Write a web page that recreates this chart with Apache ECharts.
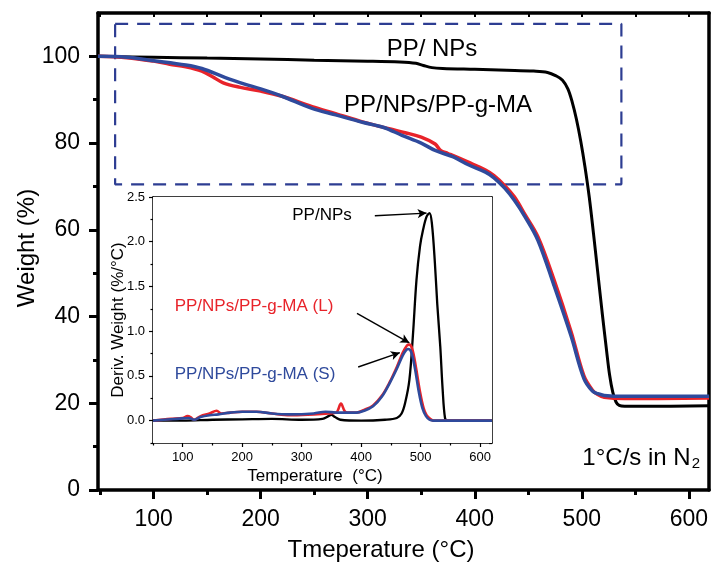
<!DOCTYPE html>
<html>
<head>
<meta charset="utf-8">
<script src="https://cdn.jsdelivr.net/npm/echarts@6/dist/echarts.min.js"></script>
<style>html,body{margin:0;padding:0;background:#fff}#c{width:711px;height:563px}</style>
</head>
<body>
<div id="c"></div>
<script>
// ---------- Main TGA curves ----------
const tBlack = [48,100,150,200,250,300,330,345,352,360,370,400,430,455,468,476,482,487,491,495,499,503,507,511,515,519,523,526,529,532,535,540,560,619];
const wBlack = [100,99.8,99.6,99.4,99.1,98.9,98.7,98.4,97.9,97.4,97.2,97.0,96.8,96.6,96.3,95.5,94.5,92.5,89.5,85.5,80.5,74.5,67.5,59,50,41,32.5,26.5,22.5,20.3,19.5,19.3,19.3,19.4];

const tRed = [48,75,100,115,130,145,155,165,180,200,220,248,270,295,320,335,350,363,368,375,394,410,418,428,437,447,459,474,490,502,510,515,521,540,619];
const wRed = [100,99.7,98.9,98.2,97.6,96.6,95.3,93.9,92.9,92.0,90.8,88.4,86.8,84.9,83.3,82.4,81.4,79.8,78.3,77.6,75.6,73.8,72.5,70.2,67.6,63.5,58.4,48.5,36.5,26.3,23.0,22.0,21.4,21.1,21.2];

const tBlue = [48,75,100,130,145,167,185,200,220,248,270,295,315,332,350,363,380,394,410,418,428,437,447,459,474,490,502,510,515,521,540,619];
const wBlue = [100,99.8,99.0,98.0,97.2,95.1,93.6,92.5,90.8,88.0,86.5,84.8,83.6,81.8,80.0,78.3,76.8,75.0,73.3,72.0,69.6,66.8,63,57.6,47.2,35.5,25.7,22.8,22.2,21.8,21.6,21.6];

// dashed box corners (temperature, weight)
const boxT = [64,537,537,64,64];
const boxW = [107.5,107.5,70.5,70.5,107.5];

// ---------- Inset DTG curves ----------
const dtT_Black = [50,100,150,200,250,300,335,345,350,356,365,400,440,460,468,474,481,487,493,499,504,510,515,519,524,528,533,537,541,545,620];
const dtD_Black = [0,0,0.01,0.015,0.02,0.01,0.02,0.05,0.065,0.04,0.01,0,0.01,0.03,0.08,0.2,0.45,0.95,1.57,1.95,2.13,2.28,2.32,2.2,1.76,1.3,0.83,0.35,0.03,0,0];

const dtT_Red = [50,80,100,108,113,119,130,145,157,165,180,200,224,250,280,320,345,358,366,373,380,392,405,420,435,448,460,470,477,481,486,492,499,505,510,516,522,620];
const dtD_Red = [0,0.02,0.03,0.05,0.04,0.01,0.05,0.08,0.11,0.08,0.09,0.1,0.1,0.08,0.06,0.07,0.08,0.09,0.19,0.1,0.09,0.09,0.12,0.17,0.28,0.43,0.6,0.76,0.84,0.85,0.8,0.6,0.32,0.14,0.06,0.02,0,0];

const dtT_Blue = [50,80,100,110,119,130,145,160,180,200,224,250,280,320,340,358,380,392,405,420,435,448,460,470,476,479,484,490,497,503,509,515,521,620];
const dtD_Blue = [0,0.015,0.025,0.03,0.01,0.04,0.06,0.07,0.09,0.1,0.1,0.08,0.07,0.08,0.1,0.09,0.09,0.09,0.11,0.16,0.27,0.42,0.58,0.73,0.79,0.8,0.77,0.6,0.32,0.14,0.05,0.01,0,0];

// arrows in inset (temperature, deriv)
const arrowFrom = [[423,2.29],[393,1.20],[395,0.60]];
const arrowTo   = [[510,2.32],[481,0.87],[465,0.76]];

// tick values
const mainXMajor = [100,200,300,400,500,600];
const mainXMinor = [50,150,250,350,450,550];
const mainXTop = [50,100,150,200,250,300,350,400,450,500,550,600];
const mainYMajor = [0,20,40,60,80,100];
const mainYMinor = [10,30,50,70,90];
const insXMajor = [100,200,300,400,500,600];
const insXMinor = [50,150,250,350,450,550];
const insYMajor = [0,0.5,1.0,1.5,2.0,2.5];
const insYMinor = [-0.25,0.25,0.75,1.25,1.75,2.25];
const insYRight = [-0.25,0,0.25,0.5,0.75,1,1.25,1.5,1.75,2,2.25];

const zip = (a,b) => a.map((v,i)=>[v,b[i]]);

const FONT = 'Liberation Sans, Arial, Helvetica, sans-serif';
const RED = '#e8232a', BLUE = '#2f4a9c', BOXBLUE = '#2d3d92';

function ax(grid, min, max, opt) {
  const o = Object.assign({type:'value', gridIndex:grid, min, max, splitLine:{show:false}}, opt);
  o.axisLine = Object.assign({onZero:false}, o.axisLine || {});
  return o;
}

const XMIN=48, XMAX=619, IXMIN=50, IXMAX=620;
const SM = 0.35;

const option = {
  animation:false,
  backgroundColor:'#fff',
  grid:[
    {left:98, right:1, top:13, bottom:73, containLabel:false},
    {left:153, right:219, top:197, bottom:120, show:true, backgroundColor:'#fff', borderWidth:0, z:5}
  ],
  xAxis:[
    ax(0,XMIN,XMAX,{position:'bottom',
      axisLine:{show:true,lineStyle:{color:'#000',width:3.5}},
      axisTick:{show:true,customValues:mainXMajor,length:9,inside:false,lineStyle:{color:'#000',width:3}},
      axisLabel:{show:true,customValues:mainXMajor,margin:18,color:'#000',fontSize:23,fontFamily:FONT}}),
    ax(0,XMIN,XMAX,{position:'bottom',
      axisLine:{show:false},
      axisTick:{show:true,customValues:mainXMinor,length:5,inside:false,lineStyle:{color:'#000',width:3}},
      axisLabel:{show:false}}),
    ax(0,XMIN,XMAX,{position:'top',
      axisLine:{show:true,lineStyle:{color:'#000',width:3.5}},
      axisTick:{show:true,customValues:mainXTop,length:4,inside:true,lineStyle:{color:'#000',width:2}},
      axisLabel:{show:false}}),
    ax(1,IXMIN,IXMAX,{position:'bottom',
      axisLine:{show:true,lineStyle:{color:'#000',width:1.5}},
      axisTick:{show:true,customValues:insXMajor,length:4,inside:false,lineStyle:{color:'#000',width:1.2}},
      axisLabel:{show:true,customValues:insXMajor,margin:8,color:'#000',fontSize:13,fontFamily:FONT}}),
    ax(1,IXMIN,IXMAX,{position:'bottom',
      axisLine:{show:false},
      axisTick:{show:true,customValues:insXMinor,length:2.5,inside:false,lineStyle:{color:'#000',width:1.2}},
      axisLabel:{show:false}}),
    ax(1,IXMIN,IXMAX,{position:'top',
      axisLine:{show:true,lineStyle:{color:'#000',width:1.5}},
      axisTick:{show:true,customValues:insXMinor.concat(insXMajor),length:3,inside:true,lineStyle:{color:'#000',width:1.2}},
      axisLabel:{show:false}})
  ],
  yAxis:[
    ax(0,0,110,{position:'left',
      axisLine:{show:true,lineStyle:{color:'#000',width:3.5}},
      axisTick:{show:true,customValues:mainYMajor,length:9,inside:false,lineStyle:{color:'#000',width:3}},
      axisLabel:{show:true,customValues:mainYMajor,margin:18,color:'#000',fontSize:23,fontFamily:FONT}}),
    ax(0,0,110,{position:'left',
      axisLine:{show:false},
      axisTick:{show:true,customValues:mainYMinor,length:5,inside:false,lineStyle:{color:'#000',width:3}},
      axisLabel:{show:false}}),
    ax(0,0,110,{position:'right',
      axisLine:{show:true,lineStyle:{color:'#000',width:3.5}},
      axisTick:{show:false},
      axisLabel:{show:false}}),
    ax(1,-0.25,2.5,{position:'left',
      axisLine:{show:true,lineStyle:{color:'#000',width:1.5}},
      axisTick:{show:true,customValues:insYMajor,length:4,inside:false,lineStyle:{color:'#000',width:1.2}},
      axisLabel:{show:true,customValues:insYMajor,margin:8,color:'#000',fontSize:13,fontFamily:FONT,
        formatter:v=>Number(v).toFixed(1)}}),
    ax(1,-0.25,2.5,{position:'left',
      axisLine:{show:false},
      axisTick:{show:true,customValues:insYMinor,length:2.5,inside:false,lineStyle:{color:'#000',width:1.2}},
      axisLabel:{show:false}}),
    ax(1,-0.25,2.5,{position:'right',
      axisLine:{show:true,lineStyle:{color:'#000',width:1.5}},
      axisTick:{show:true,customValues:insYRight,length:3,inside:true,lineStyle:{color:'#000',width:1.2}},
      axisLabel:{show:false}})
  ],
  series:[
    {type:'line', name:'box', xAxisIndex:0, yAxisIndex:0, data:zip(boxT,boxW), symbol:'none', silent:true,
      lineStyle:{color:BOXBLUE,width:2.2,type:[13,9]}, z:1},
    {type:'line', name:'PP/ NPs', xAxisIndex:0, yAxisIndex:0, data:zip(tBlack,wBlack), symbol:'none',
      smooth:SM, lineStyle:{color:'#000',width:3}, z:2},
    {type:'line', name:'PP/NPs/PP-g-MA (L)', xAxisIndex:0, yAxisIndex:0, data:zip(tRed,wRed), symbol:'none',
      smooth:SM, lineStyle:{color:RED,width:3.5}, z:2},
    {type:'line', name:'PP/NPs/PP-g-MA (S)', xAxisIndex:0, yAxisIndex:0, data:zip(tBlue,wBlue), symbol:'none',
      smooth:SM, lineStyle:{color:BLUE,width:3.5}, z:3},
    {type:'line', name:'dtg black', xAxisIndex:3, yAxisIndex:3, data:zip(dtT_Black,dtD_Black), symbol:'none',
      smooth:SM, lineStyle:{color:'#000',width:2.3}, z:6,
      markLine:{silent:true, symbol:['none','arrow'], symbolSize:[7,9], label:{show:false},
        lineStyle:{color:'#000',width:1.4,type:'solid'},
        data: arrowFrom.map((f,i)=>[{coord:f},{coord:arrowTo[i]}])}},
    {type:'line', name:'dtg red', xAxisIndex:3, yAxisIndex:3, data:zip(dtT_Red,dtD_Red), symbol:'none',
      smooth:SM, lineStyle:{color:RED,width:2.6}, z:6},
    {type:'line', name:'dtg blue', xAxisIndex:3, yAxisIndex:3, data:zip(dtT_Blue,dtD_Blue), symbol:'none',
      smooth:SM, lineStyle:{color:BLUE,width:2.6}, z:7}
  ],
  graphic:[
    {type:'text', x:27, y:248, rotation:Math.PI/2, z:10,
      style:{text:'Weight (%)', font:'24px '+FONT, fill:'#000', textAlign:'center', textVerticalAlign:'middle'}},
    {type:'text', x:381, y:550, z:10,
      style:{text:'Tmeperature (°C)', font:'24px '+FONT, fill:'#000', textAlign:'center', textVerticalAlign:'middle'}},
    {type:'text', x:432, y:49, z:10,
      style:{text:'PP/ NPs', font:'24px '+FONT, fill:'#000', textAlign:'center', textVerticalAlign:'middle'}},
    {type:'text', x:438, y:105, z:10,
      style:{text:'PP/NPs/PP-g-MA', font:'24px '+FONT, fill:'#000', textAlign:'center', textVerticalAlign:'middle'}},
    {type:'text', x:700, y:458, z:10,
      style:{text:'{a|1°C/s in N}{b|2}', textAlign:'right', textVerticalAlign:'middle',
        rich:{a:{fontSize:24,fontFamily:FONT,fill:'#000',color:'#000'}, b:{fontSize:15,fontFamily:FONT,color:'#000',fill:'#000',padding:[12,0,0,1]}}}},
    {type:'text', x:118, y:320, rotation:Math.PI/2, z:10,
      style:{text:'Deriv. Weight (%/°C)', font:'17px '+FONT, fill:'#000', textAlign:'center', textVerticalAlign:'middle'}},
    {type:'text', x:315, y:476, z:10,
      style:{text:'Temperature  (°C)', font:'17px '+FONT, fill:'#000', textAlign:'center', textVerticalAlign:'middle'}},
    {type:'text', x:322, y:215, z:10,
      style:{text:'PP/NPs', font:'17px '+FONT, fill:'#000', textAlign:'center', textVerticalAlign:'middle'}},
    {type:'text', x:254, y:306, z:10,
      style:{text:'PP/NPs/PP-g-MA (L)', font:'17px '+FONT, fill:RED, textAlign:'center', textVerticalAlign:'middle'}},
    {type:'text', x:255, y:374, z:10,
      style:{text:'PP/NPs/PP-g-MA (S)', font:'17px '+FONT, fill:BLUE, textAlign:'center', textVerticalAlign:'middle'}}
  ]
};

const chart = echarts.init(document.getElementById('c'), null, {renderer:'canvas'});
chart.setOption(option);
</script>
</body>
</html>
